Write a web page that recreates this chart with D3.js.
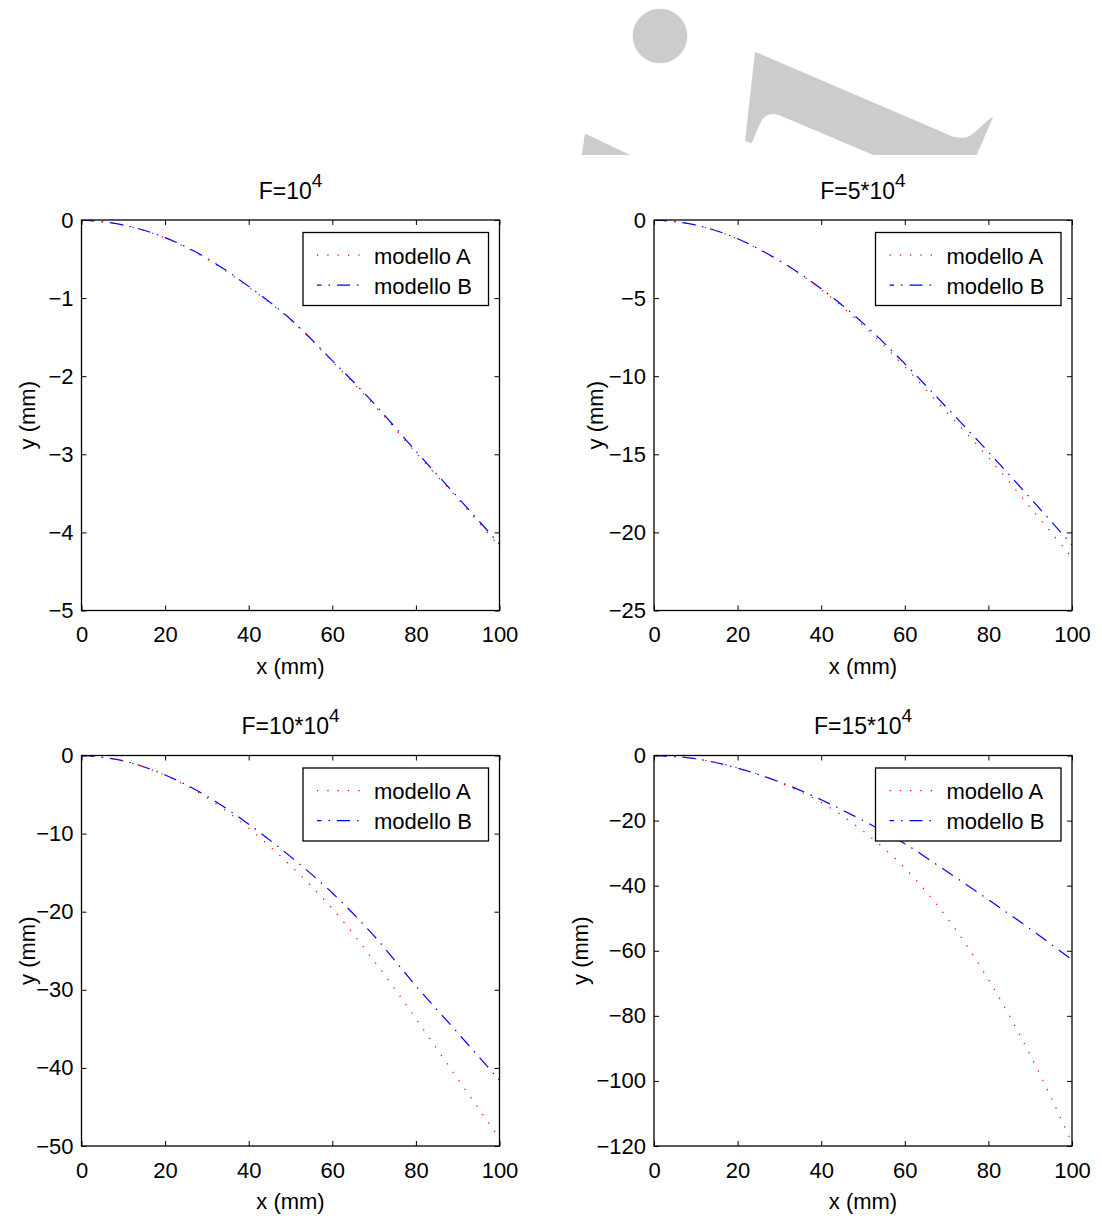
<!DOCTYPE html>
<html>
<head>
<meta charset="utf-8">
<script src="https://cdn.jsdelivr.net/npm/d3@7"></script>
<style>
  html, body { margin: 0; padding: 0; background: #ffffff; }
  svg { display: block; }
  text { font-family: "Liberation Sans", Arial, Helvetica, sans-serif; fill: #000; }
</style>
</head>
<body>
<svg id="chart" width="1102" height="1219"></svg>
<script>
// ---------------- data ----------------
const xValues = [0, 10, 20, 30, 40, 50, 60, 70, 80, 90, 100];

// F = 10^4
const f1ModelA = [0, -0.065, -0.23, -0.50, -0.86, -1.28, -1.81, -2.37, -2.98, -3.57, -4.18];
const f1ModelB = [0, -0.064, -0.226, -0.49, -0.85, -1.27, -1.80, -2.35, -2.96, -3.55, -4.15];
// F = 5*10^4
const f2ModelA = [0, -0.32, -1.22, -2.62, -4.45, -6.75, -9.40, -12.3, -15.2, -18.4, -21.6];
const f2ModelB = [0, -0.32, -1.20, -2.60, -4.40, -6.60, -9.20, -12.0, -14.85, -17.8, -20.8];
// F = 10*10^4
const f3ModelA = [0, -0.70, -2.55, -5.40, -9.30, -14.1, -19.6, -26.3, -33.7, -41.4, -49.0];
const f3ModelB = [0, -0.68, -2.50, -5.20, -8.80, -12.95, -17.6, -23.1, -29.5, -35.5, -41.6];
// F = 15*10^4
const f4ModelA = [0, -1.0, -3.8, -8.3, -14.4, -23.2, -34.6, -49.7, -68.8, -92.0, -119.0];
const f4ModelB = [0, -1.0, -3.9, -8.1, -13.6, -20.0, -27.1, -35.6, -44.3, -53.3, -62.8];

const titles = ["F=10", "F=5*10", "F=10*10", "F=15*10"];
const titleExponent = "4";
const seriesNames = ["modello A", "modello B"];
const xLabel = "x (mm)";
const yLabel = "y (mm)";

const xTicks = [0, 20, 40, 60, 80, 100];
const yTicks1 = [0, -1, -2, -3, -4, -5];
const yTicks2 = [0, -5, -10, -15, -20, -25];
const yTicks3 = [0, -10, -20, -30, -40, -50];
const yTicks4 = [0, -20, -40, -60, -80, -100, -120];

// ---------------- layout ----------------
const svg = d3.select("#chart");
const FONT = 22;
const colA = "#ff0000", colB = "#0000ff";
const dashA = "1.3,9", dashB = "13,7,1.5,7";

const panels = [
  { title: titles[0], A: f1ModelA, B: f1ModelB, yTicks: yTicks1, left: 81.5, top: 220,   ylab: -47 },
  { title: titles[1], A: f2ModelA, B: f2ModelB, yTicks: yTicks2, left: 654,  top: 220,   ylab: -51 },
  { title: titles[2], A: f3ModelA, B: f3ModelB, yTicks: yTicks3, left: 81.5, top: 755.5, ylab: -47 },
  { title: titles[3], A: f4ModelA, B: f4ModelB, yTicks: yTicks4, left: 654,  top: 755.5, ylab: -66.5 }
];
const PW = 418, PH = 390.5;
const fmt = v => (v < 0 ? "\u2212" + Math.abs(v) : String(v));

// ---------------- watermark ----------------
const wm = svg.append("g").attr("fill", "#cccccc");
wm.append("circle").attr("cx", 660).attr("cy", 36).attr("r", 27.3);
wm.append("path").attr("d", "M585,133.5 L630,155 L581.7,155 Z");
wm.append("path").attr("d",
  "M755,51.7 L948,134.5 C958,139.5 968,139 975,132 C982,126 988,119 993.3,116.7 " +
  "L976.7,155 L873.3,155 L780,115.5 C772,112.5 766,114 762,120 C758,127 755,136 751.7,143.3 " +
  "L745,141 Z");

// ---------------- panels ----------------
panels.forEach((p, i) => {
  const g = svg.append("g").attr("transform", `translate(${p.left},${p.top})`);
  const x = d3.scaleLinear().domain([0, 100]).range([0, PW]);
  const y = d3.scaleLinear().domain([d3.min(p.yTicks), 0]).range([PH, 0]);

  const clipId = "clip" + i;
  g.append("clipPath").attr("id", clipId).append("rect")
    .attr("x", 0).attr("y", 0).attr("width", PW).attr("height", PH);

  // axes (ticks inward)
  const axB = g.append("g").attr("transform", `translate(0,${PH})`)
    .call(d3.axisBottom(x).tickValues(xTicks).tickFormat(fmt).tickSizeInner(-5).tickSizeOuter(0).tickPadding(16));
  const axL = g.append("g")
    .call(d3.axisLeft(y).tickValues(p.yTicks).tickFormat(fmt).tickSizeInner(-5).tickSizeOuter(0).tickPadding(8));
  const axT = g.append("g")
    .call(d3.axisTop(x).tickValues(xTicks).tickFormat("").tickSizeInner(-5).tickSizeOuter(0));
  const axR = g.append("g").attr("transform", `translate(${PW},0)`)
    .call(d3.axisRight(y).tickValues(p.yTicks).tickFormat("").tickSizeInner(-5).tickSizeOuter(0));
  [axB, axL, axT, axR].forEach(a => {
    a.select(".domain").remove();
    a.selectAll("line").attr("stroke", "#000").attr("stroke-width", 1);
    a.selectAll("text").attr("font-size", FONT).attr("font-family", null).attr("fill", "#000");
  });

  // lines
  const lineGen = d3.line().x((d, k) => x(xValues[k])).y(d => y(d)).curve(d3.curveMonotoneX);
  const lg = g.append("g").attr("clip-path", `url(#${clipId})`);
  lg.append("path").attr("d", lineGen(p.B)).attr("fill", "none")
    .attr("stroke", colB).attr("stroke-width", 1.2).attr("stroke-dasharray", dashB);
  lg.append("path").attr("d", lineGen(p.A)).attr("fill", "none")
    .attr("stroke", colA).attr("stroke-width", 1.2).attr("stroke-dasharray", dashA);

  // frame
  g.append("rect").attr("x", 0).attr("y", 0).attr("width", PW).attr("height", PH)
    .attr("fill", "none").attr("stroke", "#000").attr("stroke-width", 1.3);

  // title
  const t = g.append("text").attr("x", PW / 2).attr("y", -21.5)
    .attr("text-anchor", "middle").attr("font-size", 23).text(p.title);
  t.append("tspan").attr("dy", -12).attr("font-size", 19).text(titleExponent);

  // axis labels
  g.append("text").attr("x", PW / 2).attr("y", PH + 63)
    .attr("text-anchor", "middle").attr("font-size", FONT).text(xLabel);
  g.append("text").attr("transform", `translate(${p.ylab},${PH / 2}) rotate(-90)`)
    .attr("text-anchor", "middle").attr("font-size", FONT).text(yLabel);

  // legend
  const LW = 185.5, LH = 73;
  const lgx = PW - 11 - LW, lgy = 12.5;
  const leg = g.append("g").attr("transform", `translate(${lgx},${lgy})`);
  leg.append("rect").attr("width", LW).attr("height", LH)
    .attr("fill", "#fff").attr("stroke", "#000").attr("stroke-width", 1.3);
  const styles = [[colA, dashA, 0], [colB, dashB, -20]];
  seriesNames.forEach((name, k) => {
    const yy = 22.7 + k * 30;
    leg.append("line").attr("x1", 14).attr("x2", 57).attr("y1", yy).attr("y2", yy)
      .attr("stroke", styles[k][0]).attr("stroke-width", 1.2)
      .attr("stroke-dasharray", styles[k][1]).attr("stroke-dashoffset", styles[k][2]);
    leg.append("text").attr("x", 71).attr("y", yy + 8.3)
      .attr("font-size", FONT).text(name);
  });
});
</script>
</body>
</html>
